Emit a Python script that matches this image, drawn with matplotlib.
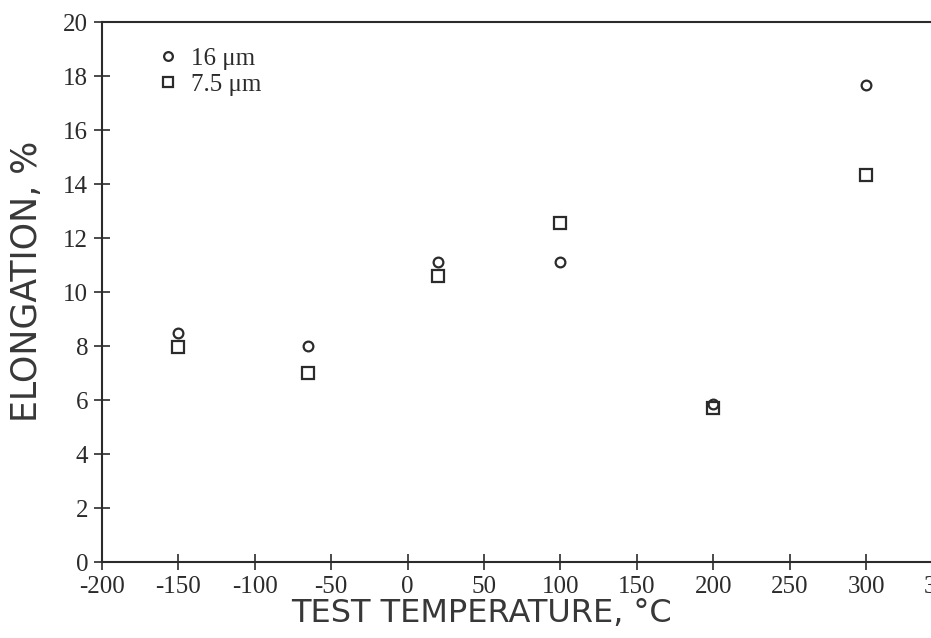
import matplotlib
matplotlib.use("Agg")
import matplotlib.pyplot as plt

# Datos
temps = [-150, -65, 20, 100, 200, 300]
elong_16 = [8.5, 8.0, 11.1, 11.1, 5.85, 17.65]
elong_75 = [7.95, 7.0, 10.6, 12.55, 5.7, 14.35]
x_ticks = [-200, -150, -100, -50, 0, 50, 100, 150, 200, 250, 300, 350]
y_ticks = [0, 2, 4, 6, 8, 10, 12, 14, 16, 18, 20]

ink = "#2b2b2b"
serif = "Liberation Serif"
sans = "DejaVu Sans"

plt.rcParams["axes.unicode_minus"] = False  # guiones simples como en el original

fig = plt.figure(figsize=(9.31, 6.38), dpi=100)
ax = fig.add_axes([0.1096, 0.1191, 0.9027, 0.8464])

ax.plot(temps, elong_16, linestyle="none", marker="o", markersize=7,
        markerfacecolor="none", markeredgecolor=ink, markeredgewidth=1.6, label="16 μm")
ax.plot(temps, elong_75, linestyle="none", marker="s", markersize=8,
        markerfacecolor="none", markeredgecolor=ink, markeredgewidth=1.6, label="7.5 μm")

ax.set_xlim(-200, 350)
ax.set_ylim(0, 20)
ax.set_xticks(x_ticks)
ax.set_yticks(y_ticks)

for s in ["left", "bottom", "top"]:
    ax.spines[s].set_color(ink)
    ax.spines[s].set_linewidth(1.5)
ax.spines["right"].set_visible(False)

ax.tick_params(direction="inout", length=12, width=1.2, color=ink,
               labelsize=18, labelcolor=ink, pad=4)
for lab in ax.get_xticklabels() + ax.get_yticklabels():
    lab.set_fontfamily(serif)

ax.set_xlabel("TEST TEMPERATURE, °C", fontsize=23, color="#383838", family=sans)
ax.xaxis.set_label_coords(0.451, -0.066)
ax.set_ylabel("ELONGATION, %", fontsize=25, color="#383838", family=sans)
ax.yaxis.set_label_coords(-0.069, 0.52)

leg = ax.legend(loc="upper left", bbox_to_anchor=(0.04, 0.995), frameon=False,
                handlelength=0.8, handletextpad=0.5, labelspacing=0.15,
                prop={"family": serif, "size": 18}, markerscale=0.9)
for t in leg.get_texts():
    t.set_color(ink)

fig.savefig("out.png", dpi=100)
